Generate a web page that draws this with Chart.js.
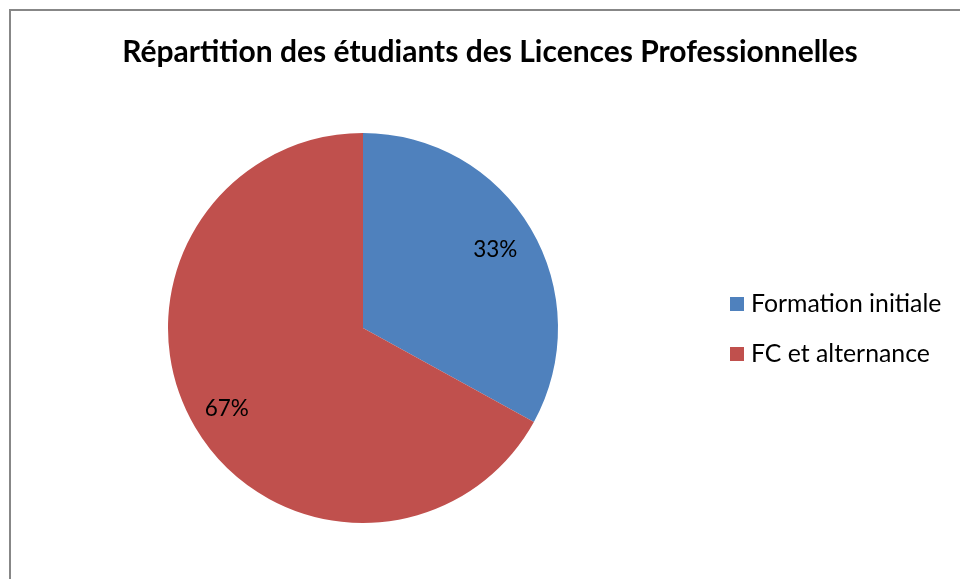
<!DOCTYPE html>
<html>
<head>
<meta charset="utf-8">
<script src="https://cdn.jsdelivr.net/npm/chart.js@4/dist/chart.umd.min.js"></script>
<style>
  html, body { margin: 0; padding: 0; background: #fff; overflow: hidden; }
  #frame {
    position: absolute; left: 9px; top: 9px; width: 1000px; height: 620px;
    border-left: 2px solid #878787; border-top: 2px solid #878787;
  }
  #wrap { position: absolute; left: 0; top: 0; width: 960px; height: 579px; }
</style>
</head>
<body>
<div id="frame"></div>
<div id="wrap"><canvas id="pieChart" width="960" height="579"></canvas></div>
<script>
// ===== DATA =====
const titleText = "Répartition des étudiants des Licences Professionnelles";
const categories = ["Formation initiale", "FC et alternance"];
const shares = [33, 67];
const sliceColors = ["#4F81BD", "#C0504D"];

const FONT = "Lato, Calibri, 'Open Sans', sans-serif";

// title, legend and % labels drawn straight on the canvas
const decorations = {
  id: "decorations",
  afterDraw(chart){
    const ctx = chart.ctx;
    ctx.save();
    ctx.fillStyle = "#000";
    ctx.textBaseline = "middle";

    // title
    ctx.font = `bold 30px ${FONT}`;
    ctx.textAlign = "center";
    ctx.fillText(titleText, 490, 52);

    // percent labels inside slices
    const total = shares.reduce((a, b) => a + b, 0);
    ctx.font = `22.5px ${FONT}`;
    chart.getDatasetMeta(0).data.forEach((arc, i) => {
      const p = arc.getProps(["x", "y", "startAngle", "endAngle", "outerRadius"], true);
      const mid = (p.startAngle + p.endAngle) / 2;
      const r = p.outerRadius * 0.8;
      const pct = Math.round(shares[i] / total * 100) + "%";
      ctx.fillText(pct, p.x + Math.cos(mid) * r - 2, p.y + Math.sin(mid) * r + 1);
    });

    // legend
    ctx.textAlign = "left";
    ctx.font = `24.8px ${FONT}`;
    categories.forEach((name, i) => {
      const y = 304 + i * 50;
      ctx.fillStyle = sliceColors[i];
      ctx.fillRect(730, y - 7, 14, 14);
      ctx.fillStyle = "#000";
      ctx.fillText(name, 751, y);
    });
    ctx.restore();
  }
};

new Chart(document.getElementById("pieChart"), {
  type: "pie",
  data: {
    labels: categories,
    datasets: [{
      data: shares,
      backgroundColor: sliceColors,
      borderWidth: 0,
      hoverOffset: 0,
      offset: 0
    }]
  },
  options: {
    responsive: false,
    animation: false,
    layout: { padding: { left: 168, top: 133, right: 402, bottom: 56 } },
    plugins: {
      legend: { display: false },
      title: { display: false },
      tooltip: { enabled: false }
    }
  },
  plugins: [decorations]
});
</script>
</body>
</html>
